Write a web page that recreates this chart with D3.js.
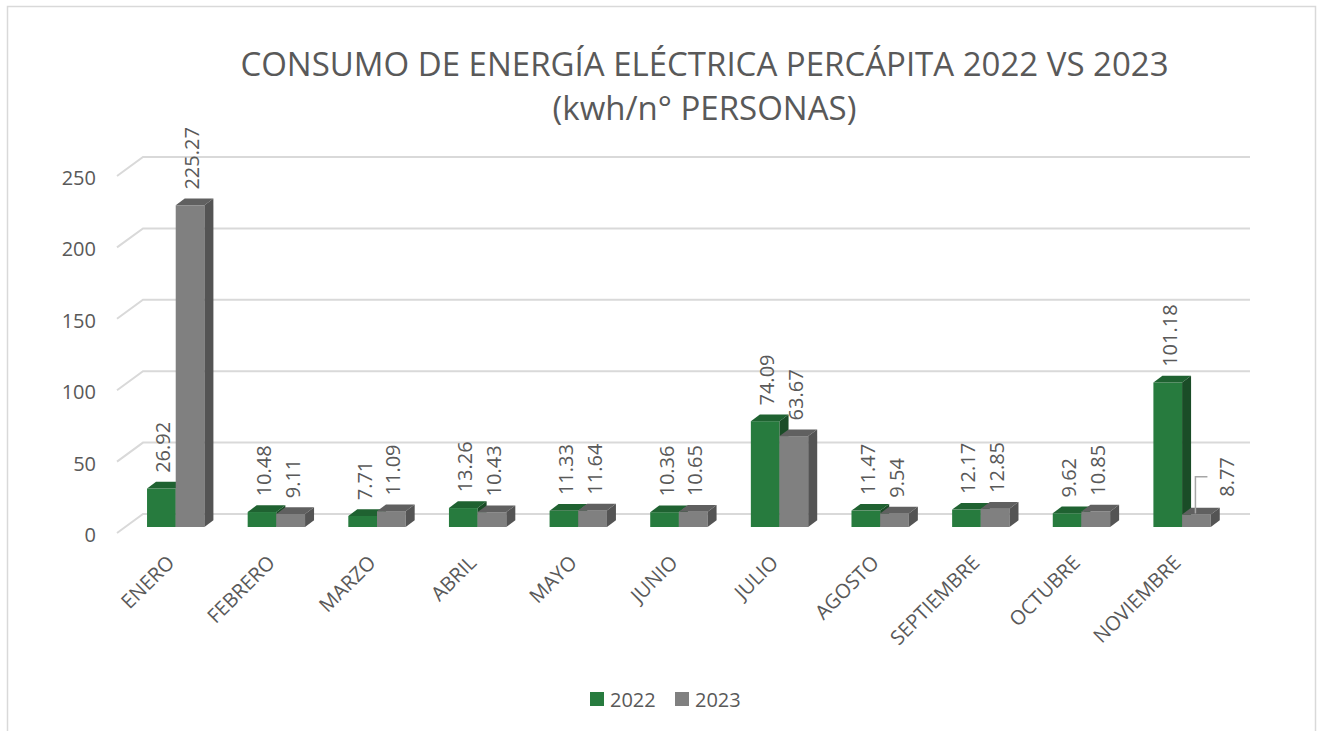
<!DOCTYPE html>
<html>
<head>
<meta charset="utf-8">
<script src="https://cdn.jsdelivr.net/npm/d3@7"></script>
<style>
	body { margin: 0; background: #ffffff; }
	text { font-family: "Open Sans", sans-serif; fill: #595959; }
</style>
</head>
<body>
<svg id="chartSVG" width="1317" height="731"></svg>
<script>
// ---- data ----
var MONTHS = ["ENERO", "FEBRERO", "MARZO", "ABRIL", "MAYO", "JUNIO", "JULIO",
	"AGOSTO", "SEPTIEMBRE", "OCTUBRE", "NOVIEMBRE"];
var SERIES = ["2022", "2023"];
var VALUES_2022 = [26.92, 10.48, 7.71, 13.26, 11.33, 10.36, 74.09, 11.47, 12.17, 9.62, 101.18];
var VALUES_2023 = [225.27, 9.11, 11.09, 10.43, 11.64, 10.65, 63.67, 9.54, 12.85, 10.85, 8.77];
var Y_TICKS = [0, 50, 100, 150, 200, 250];
var TITLE_LINES = ["CONSUMO DE ENERGÍA ELÉCTRICA PERCÁPITA 2022 VS 2023", "(kwh/n° PERSONAS)"];

// label that Excel pushed aside (with a leader line)
var MOVED_LABELS = [{ month: "NOVIEMBRE", series: "2023", dx: 29, dy: -2 }];

// ---- layout ----
var W = 1317, H = 731;
var FRONT_X = 117, FRONT_Y = 533;     // front-left corner of the floor
var PLOT_W = 1107, PLOT_H = 357;
var WALL_DX = 26, WALL_DY = -19;      // floor depth (front edge -> back wall)
var BAR_DX = 8.4, BAR_DY = -6;        // bar front face offset from the front edge
var BAR_DEPTH_X = 9, BAR_DEPTH_Y = -6.7;

var COLORS = {
	"2022": { front: "#277b3e", top: "#1f6231", side: "#1a4c27" },
	"2023": { front: "#808080", top: "#606060", side: "#545454" }
};
var GRID_COLOR = "#d9d9d9";

var svg = d3.select("#chartSVG");

// chart frame
svg.append("rect")
	.attr("x", 7.5).attr("y", 6.5)
	.attr("width", W - 9).attr("height", H + 20)
	.attr("fill", "#ffffff")
	.attr("stroke", GRID_COLOR).attr("stroke-width", 1.5);

// scales
var x = d3.scaleBand().domain(MONTHS).range([0, PLOT_W])
	.paddingInner(0.43).paddingOuter(0.215);
var xs = d3.scaleBand().domain(SERIES).range([0, x.bandwidth()]);
var y = d3.scaleLinear().domain([0, 250]).range([0, PLOT_H]);
var yAxisScale = d3.scaleLinear().domain([0, 250]).range([0, -PLOT_H]);

// gridlines: slanted on the side wall, flat on the back wall
svg.append("g").attr("class", "grid")
	.selectAll("polyline").data(Y_TICKS).join("polyline")
	.attr("points", function(t) {
		var yf = FRONT_Y - y(t), yb = FRONT_Y + WALL_DY - y(t);
		return [[FRONT_X, yf], [FRONT_X + WALL_DX, yb], [FRONT_X + WALL_DX + PLOT_W, yb]].join(" ");
	})
	.attr("fill", "none")
	.attr("stroke", GRID_COLOR).attr("stroke-width", 2);

// y axis labels at the front edge
var yAxis = svg.append("g")
	.attr("transform", "translate(" + FRONT_X + "," + (FRONT_Y + 2) + ")")
	.call(d3.axisLeft(yAxisScale).tickValues(Y_TICKS).tickSize(0).tickPadding(21));
yAxis.select(".domain").remove();
yAxis.selectAll("text").attr("font-size", 20).attr("fill", "#595959")
	.style("font-family", "'Open Sans', sans-serif");

// category labels
var xAxis = svg.append("g")
	.attr("transform", "translate(" + (FRONT_X + BAR_DX) + "," + FRONT_Y + ")")
	.call(d3.axisBottom(x).tickSize(0));
xAxis.select(".domain").remove();
xAxis.selectAll("text")
	.attr("y", 0).attr("dy", 0)
	.attr("transform", "translate(0,31) rotate(-45)")
	.attr("text-anchor", "end")
	.attr("font-size", 20).attr("fill", "#595959")
	.style("font-family", "'Open Sans', sans-serif");

// bars
var rows = MONTHS.map(function(m, i) {
	return { month: m, bars: [
		{ month: m, series: "2022", value: VALUES_2022[i] },
		{ month: m, series: "2023", value: VALUES_2023[i] }
	]};
});

function barGeom(d) {
	var x0 = FRONT_X + BAR_DX + x(d.month) + xs(d.series);
	var w = xs.bandwidth();
	var yb = FRONT_Y + BAR_DY;
	var h = y(d.value);
	return { x0: x0, w: w, yb: yb, yt: yb - h };
}

var groups = svg.append("g").attr("class", "bars")
	.selectAll("g").data(rows).join("g");

var bar = groups.selectAll("g").data(function(r) { return r.bars; }).join("g");

bar.append("rect")
	.attr("x", function(d) { return barGeom(d).x0; })
	.attr("y", function(d) { return barGeom(d).yt; })
	.attr("width", function(d) { return barGeom(d).w; })
	.attr("height", function(d) { var g = barGeom(d); return g.yb - g.yt; })
	.attr("fill", function(d) { return COLORS[d.series].front; });

bar.append("polygon")
	.attr("points", function(d) {
		var g = barGeom(d);
		return [[g.x0, g.yt], [g.x0 + BAR_DEPTH_X, g.yt + BAR_DEPTH_Y],
			[g.x0 + g.w + BAR_DEPTH_X, g.yt + BAR_DEPTH_Y], [g.x0 + g.w, g.yt]].join(" ");
	})
	.attr("fill", function(d) { return COLORS[d.series].top; });

bar.append("polygon")
	.attr("points", function(d) {
		var g = barGeom(d);
		return [[g.x0 + g.w, g.yb], [g.x0 + g.w, g.yt],
			[g.x0 + g.w + BAR_DEPTH_X, g.yt + BAR_DEPTH_Y], [g.x0 + g.w + BAR_DEPTH_X, g.yb + BAR_DEPTH_Y]].join(" ");
	})
	.attr("fill", function(d) { return COLORS[d.series].side; });

// data labels (rotated)
function movedOffset(d) {
	var m = MOVED_LABELS.filter(function(o) { return o.month == d.month && o.series == d.series; });
	return m.length ? m[0] : null;
}

function labelPos(d) {
	var g = barGeom(d);
	var o = movedOffset(d) || { dx: 0, dy: 0 };
	return { cx: g.x0 + g.w / 2 + 2 + o.dx, by: g.yt + BAR_DEPTH_Y - 9 + o.dy };
}

var allBars = [];
rows.forEach(function(r) { allBars = allBars.concat(r.bars); });

svg.append("g").attr("class", "leaders")
	.selectAll("polyline").data(allBars.filter(movedOffset)).join("polyline")
	.attr("points", function(d) {
		var g = barGeom(d), p = labelPos(d);
		var midY = p.by - 20;
		return [[g.x0 + g.w / 2 - 1, g.yt - 1], [g.x0 + g.w / 2 - 1, midY], [p.cx - 20, midY]].join(" ");
	})
	.attr("fill", "none").attr("stroke", "#a6a6a6").attr("stroke-width", 1.5);

svg.append("g").attr("class", "labels")
	.selectAll("text").data(allBars).join("text")
	.attr("transform", function(d) {
		var p = labelPos(d);
		return "translate(" + (p.cx + 7) + "," + p.by + ") rotate(-90)";
	})
	.attr("font-size", 20)
	.text(function(d) { return d3.format(".2f")(d.value); });

// title
svg.append("g").attr("class", "title")
	.selectAll("text").data(TITLE_LINES).join("text")
	.attr("x", 704.5)
	.attr("y", function(d, i) { return 76 + i * 44; })
	.attr("text-anchor", "middle")
	.attr("font-size", 33)
	.text(function(d) { return d; });

// legend
var legend = svg.append("g").attr("class", "legend")
	.attr("transform", "translate(590,692)")
	.selectAll("g").data(SERIES).join("g")
	.attr("transform", function(d, i) { return "translate(" + (i * 85) + ",0)"; });
legend.append("rect").attr("width", 14).attr("height", 14)
	.attr("fill", function(d) { return COLORS[d].front; });
legend.append("text").attr("x", 20).attr("y", 15)
	.attr("font-size", 20)
	.text(function(d) { return d; });
</script>
</body>
</html>
